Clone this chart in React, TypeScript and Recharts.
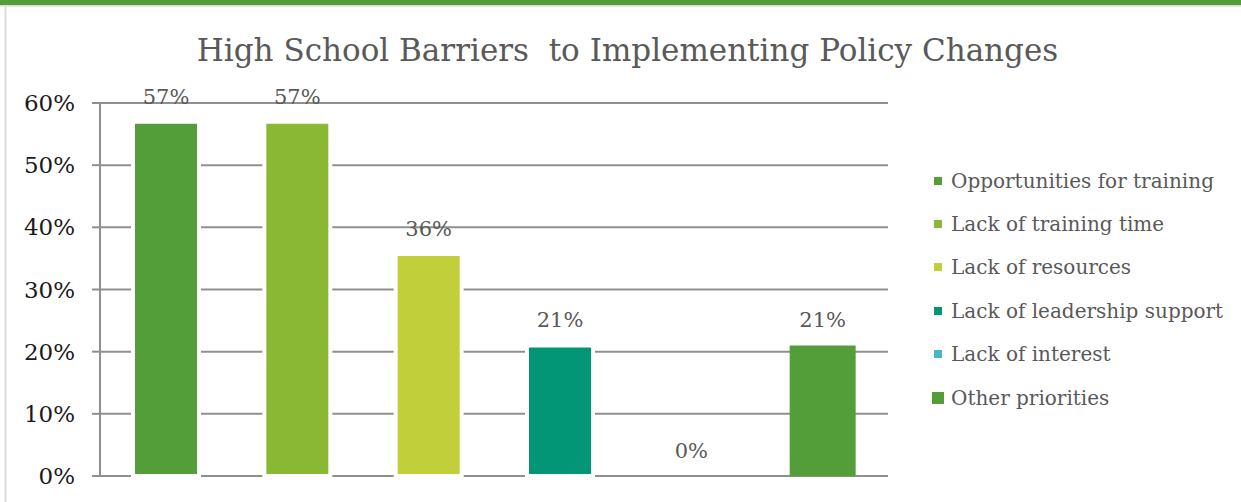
import React from 'react'
import { BarChart, Bar, XAxis, YAxis, CartesianGrid, Cell, LabelList, Legend } from 'recharts'

// Categories, values (share of respondents) and their bar colours
const categories = [
  'Opportunities for training',
  'Lack of training time',
  'Lack of resources',
  'Lack of leadership support',
  'Lack of interest',
  'Other priorities',
]
const shares = [0.57, 0.57, 0.357, 0.21, 0, 0.21]
const colors = ['#549E39', '#8AB833', '#C0CF3A', '#029676', '#4AB5C4', '#549E39']
const yTicks = [0, 0.1, 0.2, 0.3, 0.4, 0.5, 0.6]

const TITLE = 'High School Barriers  to Implementing Policy Changes'
const FONT = '"DejaVu Serif", serif'
const GRID = '#8f8f8f'

const pct = (v: number) => `${Math.round(v * 100)}%`
const data = categories.map((name, i) => ({ name, value: shares[i], label: pct(shares[i]) }))

function LegendBox() {
  return (
    <div style={{ fontFamily: FONT, fontSize: 20, color: '#595959' }}>
      {categories.map((name, i) => {
        const big = i === categories.length - 1
        const size = big ? 12 : 8
        return (
          <div key={name} style={{ height: 43.4, display: 'flex', alignItems: 'center', whiteSpace: 'nowrap' }}>
            <span
              style={{
                display: 'inline-block',
                width: size,
                height: size,
                background: colors[i],
                marginLeft: big ? -2 : 0,
                marginRight: big ? 7 : 9,
              }}
            />
            <span>{name}</span>
          </div>
        )
      })}
    </div>
  )
}

export default function App() {
  return (
    <div style={{ position: 'relative', width: 1241, height: 502, background: '#fff' }}>
      <style>{'body{margin:0}'}</style>
      <BarChart
        width={1241}
        height={502}
        data={data}
        margin={{ top: 103, right: 353, bottom: 26, left: 0 }}
      >
        <CartesianGrid vertical={false} stroke={GRID} strokeWidth={2} />
        <XAxis dataKey="name" hide />
        <YAxis
          width={100}
          domain={[0, 0.6]}
          ticks={yTicks}
          tickFormatter={pct}
          tickSize={8}
          tickMargin={17}
          axisLine={{ stroke: GRID, strokeWidth: 2 }}
          tickLine={{ stroke: GRID, strokeWidth: 2 }}
          tick={{ fontFamily: FONT, fontSize: 23, fill: '#1a1a1a' }}
        />
        <Legend
          layout="vertical"
          align="center"
          verticalAlign="middle"
          content={() => <LegendBox />}
          wrapperStyle={{ left: 934, top: 159, width: 300 }}
        />
        <Bar dataKey="value" barSize={66} minPointSize={0.1} isAnimationActive={false}>
          {data.map((d, i) => (
            <Cell
              key={d.name}
              fill={colors[i]}
              stroke={i < 4 ? '#ffffff' : 'none'}
              strokeWidth={i < 4 ? 4 : 0}
            />
          ))}
          <LabelList
            dataKey="label"
            position="top"
            offset={18}
            style={{ fontFamily: FONT, fontSize: 21, fill: '#595959' }}
          />
        </Bar>
      </BarChart>
      <svg
        width={1241}
        height={502}
        style={{ position: 'absolute', left: 0, top: 0, pointerEvents: 'none' }}
      >
        <rect x={0} y={0} width={1241} height={5} fill="#549E39" />
        <rect x={0} y={5} width={1241} height={1.5} fill="#d9d9d9" />
        <rect x={4.5} y={6} width={2} height={496} fill="#dcdcdc" />
        <text
          x={627.5}
          y={61}
          textAnchor="middle"
          fontFamily={FONT}
          fontSize={31}
          fill="#595959"
          style={{ whiteSpace: 'pre' }}
        >
          {TITLE}
        </text>
      </svg>
    </div>
  )
}
